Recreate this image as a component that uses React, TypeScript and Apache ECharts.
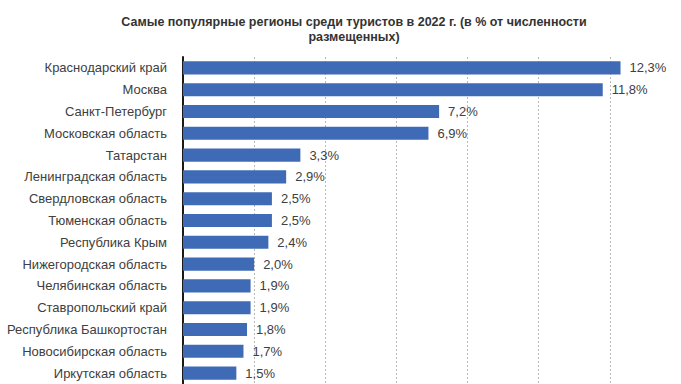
import React, { useEffect, useRef } from "react";
import * as echarts from "echarts";

const categories = [
  "Краснодарский край",
  "Москва",
  "Санкт-Петербург",
  "Московская область",
  "Татарстан",
  "Ленинградская область",
  "Свердловская область",
  "Тюменская область",
  "Республика Крым",
  "Нижегородская область",
  "Челябинская область",
  "Ставропольский край",
  "Республика Башкортостан",
  "Новосибирская область",
  "Иркутская область",
];

const values = [12.3, 11.8, 7.2, 6.9, 3.3, 2.9, 2.5, 2.5, 2.4, 2.0, 1.9, 1.9, 1.8, 1.7, 1.5];

const titleLines = [
  "Самые популярные регионы среди туристов в 2022 г. (в % от численности",
  "размещенных)",
];

export default function App() {
  const ref = useRef<HTMLDivElement>(null);
  useEffect(() => {
    if (!ref.current) return;
    const chart = echarts.init(ref.current, null, { renderer: "svg" });
    const font = "Liberation Sans, Arial, sans-serif";
    chart.setOption({
      animation: false,
      backgroundColor: "#ffffff",
      title: {
        text: titleLines.join("\n"),
        left: 349,
        top: 9,
        textAlign: "center",
        textStyle: {
          fontSize: 12.5,
          fontWeight: "bold",
          lineHeight: 15,
          color: "#333333",
          fontFamily: font,
        },
      },
      grid: { left: 183, top: 57, width: 500, height: 330, containLabel: false },
      xAxis: {
        type: "value",
        min: 0,
        max: 14,
        interval: 2,
        axisLabel: { show: false },
        axisLine: { show: false },
        axisTick: { show: false },
        splitLine: { show: true, lineStyle: { color: "#b8b8b8", type: [2, 2], width: 1 } },
      },
      yAxis: {
        type: "category",
        data: categories,
        inverse: true,
        axisLine: { show: true, lineStyle: { color: "#1a1a1a", width: 2 } },
        axisTick: { show: false },
        axisLabel: { color: "#404040", fontSize: 13, margin: 16, fontFamily: font },
      },
      series: [
        {
          type: "bar",
          data: values,
          barCategoryGap: "40%",
          itemStyle: { color: "#3f6bb6" },
          label: {
            show: true,
            position: "right",
            distance: 9,
            color: "#404040",
            fontSize: 13,
            fontFamily: font,
            formatter: (p: any) => p.value.toFixed(1).replace(".", ",") + "%",
          },
        },
      ],
    });
    return () => chart.dispose();
  }, []);
  return (
    <div
      ref={ref}
      style={{ position: "fixed", left: 0, top: 0, width: 681, height: 384 }}
    />
  );
}
